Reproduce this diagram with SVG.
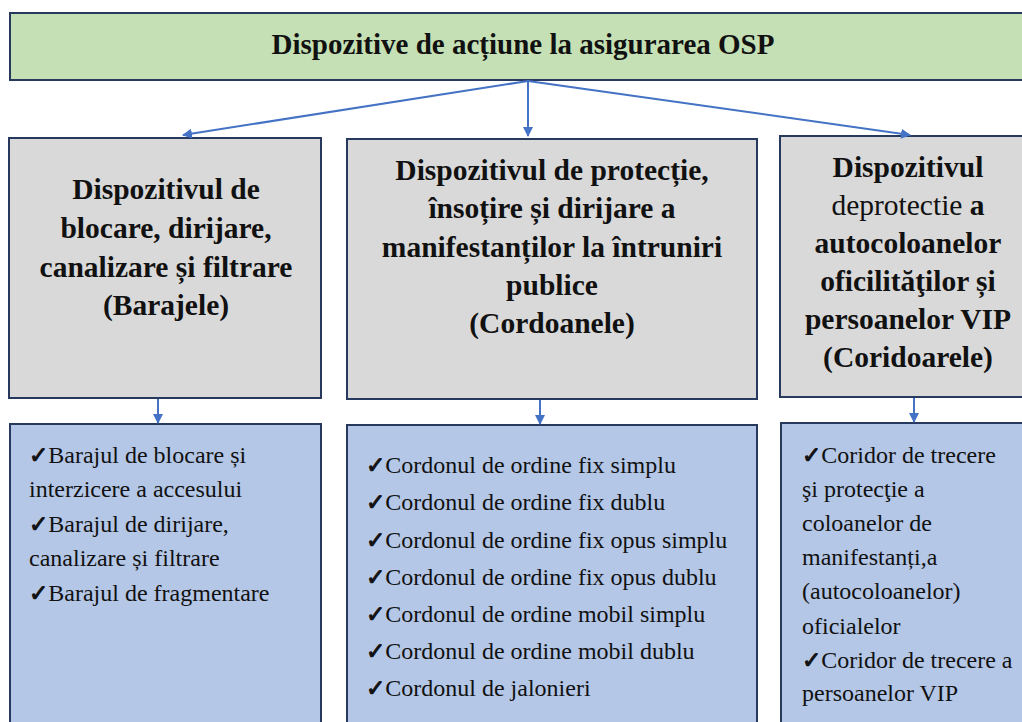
<svg xmlns="http://www.w3.org/2000/svg" width="1022" height="722" viewBox="0 0 1022 722">
<defs>
<marker id="ah" markerWidth="10" markerHeight="10" refX="9" refY="5" orient="auto" markerUnits="userSpaceOnUse">
<path d="M0,0 L10,5 L0,10 z" fill="#4472C4"/>
</marker>
<style>
.box{stroke:#27395C;stroke-width:2}
.top{fill:#C5E0B4}
.gray{fill:#D9D9D9}
.blue{fill:#B4C7E7}
.t{font-family:"Liberation Serif","DejaVu Serif",serif;fill:#111}
.h{font-size:29.5px;font-weight:bold;text-anchor:middle}
.title{font-size:29px;font-weight:bold;text-anchor:middle}
.l{font-size:24px}
.n{font-weight:normal}
.ck{font-family:"DejaVu Sans",sans-serif;font-size:23px;stroke:#111;stroke-width:1}
.c{stroke:#4472C4;stroke-width:2;fill:none;marker-end:url(#ah)}
</style>
</defs>
<rect width="1022" height="722" fill="#ffffff"/>
<g id="root">
<rect class="box top" x="10" y="13" width="1030" height="67"/>
<text class="t title" x="523" y="54">Dispozitive de acțiune la asigurarea OSP</text>
</g>
<g id="baraje">
<rect class="box gray" x="9" y="138" width="312" height="260"/>
<text class="t h" x="166" y="199">Dispozitivul de</text>
<text class="t h" x="166" y="238">blocare, dirijare,</text>
<text class="t h" x="166" y="277">canalizare și filtrare</text>
<text class="t h" x="166" y="315">(Barajele)</text>
</g>
<g id="cordoane">
<rect class="box gray" x="347" y="139" width="410" height="260"/>
<text class="t h" x="552" y="180">Dispozitivul de protecție,</text>
<text class="t h" x="552" y="218">însoțire și dirijare a</text>
<text class="t h" x="552" y="257">manifestanților la întruniri</text>
<text class="t h" x="552" y="295">publice</text>
<text class="t h" x="552" y="333">(Cordoanele)</text>
</g>
<g id="coridoare">
<rect class="box gray" x="780" y="136" width="260" height="261"/>
<text class="t h" x="908" y="177">Dispozitivul</text>
<text class="t h" x="908" y="215"><tspan class="n">deprotectie</tspan> a</text>
<text class="t h" x="908" y="253">autocoloanelor</text>
<text class="t h" x="908" y="291">oficilităţilor și</text>
<text class="t h" x="908" y="329">persoanelor VIP</text>
<text class="t h" x="908" y="367">(Coridoarele)</text>
</g>
<g id="lista-baraje">
<rect class="box blue" x="10" y="424" width="311" height="320"/>
<text class="t l" x="29" y="463"><tspan class="ck">✓</tspan>Barajul de blocare și</text>
<text class="t l" x="29" y="497">interzicere a accesului</text>
<text class="t l" x="29" y="532"><tspan class="ck">✓</tspan>Barajul de dirijare,</text>
<text class="t l" x="29" y="566">canalizare și filtrare</text>
<text class="t l" x="29" y="601"><tspan class="ck">✓</tspan>Barajul de fragmentare</text>
</g>
<g id="lista-cordoane">
<rect class="box blue" x="347" y="425" width="410" height="320"/>
<text class="t l" x="366" y="473"><tspan class="ck">✓</tspan>Cordonul de ordine fix simplu</text>
<text class="t l" x="366" y="510"><tspan class="ck">✓</tspan>Cordonul de ordine fix dublu</text>
<text class="t l" x="366" y="548"><tspan class="ck">✓</tspan>Cordonul de ordine fix opus simplu</text>
<text class="t l" x="366" y="585"><tspan class="ck">✓</tspan>Cordonul de ordine fix opus dublu</text>
<text class="t l" x="366" y="622"><tspan class="ck">✓</tspan>Cordonul de ordine mobil simplu</text>
<text class="t l" x="366" y="659"><tspan class="ck">✓</tspan>Cordonul de ordine mobil dublu</text>
<text class="t l" x="366" y="696"><tspan class="ck">✓</tspan>Cordonul de jalonieri</text>
</g>
<g id="lista-coridoare">
<rect class="box blue" x="781" y="423" width="260" height="320"/>
<text class="t l" x="802" y="463"><tspan class="ck">✓</tspan>Coridor de trecere</text>
<text class="t l" x="802" y="497">şi protecţie a</text>
<text class="t l" x="802" y="531">coloanelor de</text>
<text class="t l" x="802" y="565">manifestanți,a</text>
<text class="t l" x="802" y="599">(autocoloanelor)</text>
<text class="t l" x="802" y="634">oficialelor</text>
<text class="t l" x="802" y="668"><tspan class="ck">✓</tspan>Coridor de trecere a</text>
<text class="t l" x="802" y="701">persoanelor VIP</text>
</g>
<g id="connectors">
<line class="c" x1="528" y1="81" x2="183" y2="135"/>
<line class="c" x1="528" y1="81" x2="528" y2="136"/>
<line class="c" x1="528" y1="81" x2="910" y2="135"/>
<line class="c" x1="158" y1="399" x2="158" y2="423"/>
<line class="c" x1="540" y1="400" x2="540" y2="424"/>
<line class="c" x1="914" y1="398" x2="914" y2="422"/>
</g>
</svg>
